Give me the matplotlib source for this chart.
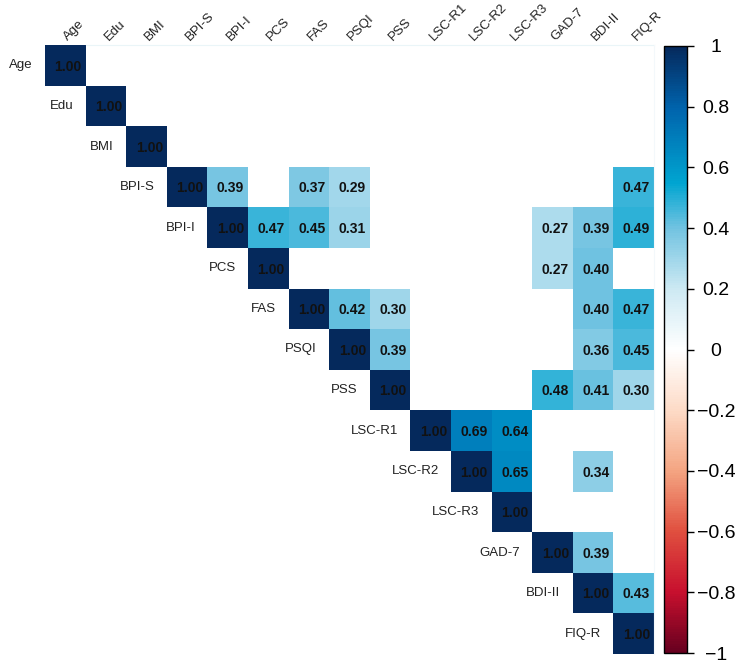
import numpy as np
import matplotlib
matplotlib.use("Agg")
import matplotlib.pyplot as plt
from matplotlib.colors import LinearSegmentedColormap

plt.rcParams['font.family'] = ['Liberation Sans', 'DejaVu Sans']

variables = ["Age", "Edu", "BMI", "BPI-S", "BPI-I", "PCS", "FAS", "PSQI", "PSS",
             "LSC-R1", "LSC-R2", "LSC-R3", "GAD-7", "BDI-II", "FIQ-R"]

# significant correlations (upper triangle): (row, column, r)
sig_pairs = [
    ("BPI-S", "BPI-I", 0.39), ("BPI-S", "FAS", 0.37), ("BPI-S", "PSQI", 0.29), ("BPI-S", "FIQ-R", 0.47),
    ("BPI-I", "PCS", 0.47), ("BPI-I", "FAS", 0.45), ("BPI-I", "PSQI", 0.31), ("BPI-I", "GAD-7", 0.27),
    ("BPI-I", "BDI-II", 0.39), ("BPI-I", "FIQ-R", 0.49),
    ("PCS", "GAD-7", 0.27), ("PCS", "BDI-II", 0.40),
    ("FAS", "PSQI", 0.42), ("FAS", "PSS", 0.30), ("FAS", "BDI-II", 0.40), ("FAS", "FIQ-R", 0.47),
    ("PSQI", "PSS", 0.39), ("PSQI", "BDI-II", 0.36), ("PSQI", "FIQ-R", 0.45),
    ("PSS", "GAD-7", 0.48), ("PSS", "BDI-II", 0.41), ("PSS", "FIQ-R", 0.30),
    ("LSC-R1", "LSC-R2", 0.69), ("LSC-R1", "LSC-R3", 0.64),
    ("LSC-R2", "LSC-R3", 0.65), ("LSC-R2", "BDI-II", 0.34),
    ("GAD-7", "BDI-II", 0.39),
    ("BDI-II", "FIQ-R", 0.43),
]
cbar_ticks = [-1, -0.8, -0.6, -0.4, -0.2, 0, 0.2, 0.4, 0.6, 0.8, 1]

n = len(variables)
idx = {v: i for i, v in enumerate(variables)}
M = np.full((n, n), np.nan)
for i in range(n):
    M[i, i] = 1.0
for a, b, r in sig_pairs:
    M[idx[a], idx[b]] = r

cmap = LinearSegmentedColormap.from_list("corr", [
    (0.0, "#67001F"), (0.1, "#C8102E"), (0.2, "#E0503F"), (0.3, "#F4A582"),
    (0.4, "#FDDBC7"), (0.5, "#FFFFFF"), (0.6, "#CDE9F3"), (0.7, "#72C3E1"),
    (0.775, "#00A5D1"), (0.9, "#0063AC"), (1.0, "#05295C")])

fig = plt.figure(figsize=(7.42, 6.70), dpi=100)
ax = fig.add_axes([45 / 742, 16 / 670, 609 / 742, 609 / 670])
cax = fig.add_axes([664 / 742, 17 / 670, 23 / 742, 607 / 670])

mesh = ax.pcolormesh(np.arange(n + 1) - 0.5, np.arange(n + 1) - 0.5,
                     np.ma.masked_invalid(M), cmap=cmap, vmin=-1, vmax=1)
ax.set_xlim(-0.5, n - 0.5)
ax.set_ylim(n - 0.5, -0.5)
ax.axis("off")

for i in range(n):
    for j in range(n):
        if not np.isnan(M[i, j]):
            ax.text(j + 0.07, i + 0.03, f"{M[i, j]:.2f}", ha="center", va="center",
                    fontsize=10, fontweight="bold", color="#111111")

# faint border lines
ax.plot([0.5, n - 0.5], [-0.5, -0.5], color="#eaf5f8", lw=0.8, clip_on=False)
ax.plot([n - 0.5, n - 0.5], [-0.5, n - 0.5], color="#f3f8fb", lw=0.8, clip_on=False)

for i, v in enumerate(variables):
    ax.text(i - 0.8, i, v, ha="right", va="center", fontsize=9.5, color="#222222")
    ax.text(i + 0.12, -0.55, v, ha="left", va="bottom", rotation=45,
            rotation_mode="anchor", fontsize=9.5, color="#222222")

cb = fig.colorbar(mesh, cax=cax, ticks=cbar_ticks)
cb.outline.set_linewidth(1.0)
cb.outline.set_edgecolor("black")
cax.tick_params(length=5, width=1, labelsize=14, pad=16)
cb.set_ticklabels([("\u2212" if t < 0 else "") + f"{abs(t):g}" for t in cbar_ticks])
for lab in cax.get_yticklabels():
    lab.set_ha("center")

fig.savefig("out.png", dpi=100)
